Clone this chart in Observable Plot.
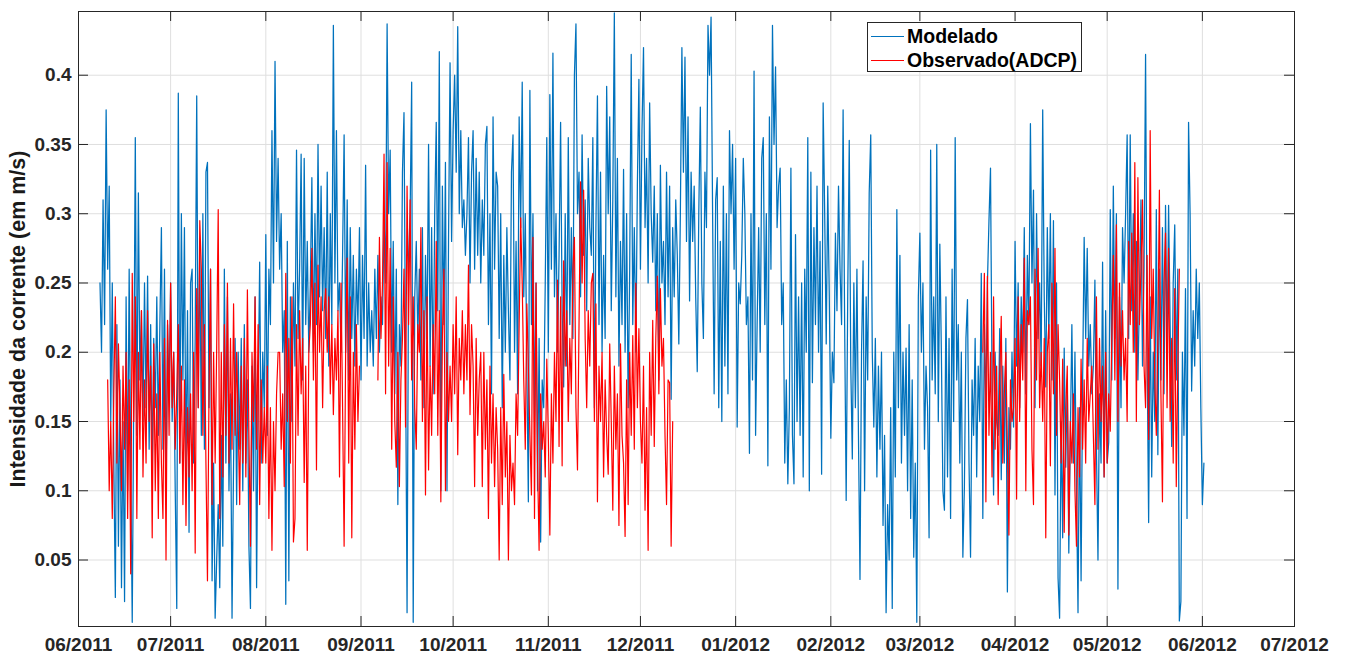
<!DOCTYPE html>
<html>
<head>
<meta charset="utf-8">
<script src="https://cdn.jsdelivr.net/npm/d3@7"></script>
<script src="https://cdn.jsdelivr.net/npm/@observablehq/plot@0.6"></script>
<style>
  body { margin: 0; background: #fff; }
  #grafico { position: relative; width: 1347px; height: 655px; font-family: "Liberation Sans", Arial, Helvetica, sans-serif; }
  .legenda { position: absolute; left: 867px; top: 22px; width: 215px; height: 50px; box-sizing: border-box;
             border: 1px solid #262626; background: #fff; font-weight: bold; font-size: 19.5px; color: #000; }
  .legenda .item { position: absolute; left: 0; height: 24px; display: flex; align-items: center; white-space: nowrap; }
  .legenda .amostra { width: 33px; height: 0; border-top: 1px solid; margin: 0 3px 0 3px; }
</style>
</head>
<body>
<div id="grafico"></div>
<script>
// Intensidade da corrente: série modelada e medições do ADCP, amostradas a cada 12 h.
const passoHoras = 12;

const rotulosX = ["06/2011","07/2011","08/2011","09/2011","10/2011","11/2011","12/2011",
                  "01/2012","02/2012","03/2012","04/2012","05/2012","06/2012","07/2012"];
const ticksY = [0.05, 0.1, 0.15, 0.2, 0.25, 0.3, 0.35, 0.4];
const dominioY = [0.002, 0.446];

const rotuloY = "Intensidade da corrente (em m/s)";
const nomeModelado = "Modelado";
const nomeObservado = "Observado(ADCP)";

// Modelado: início 08/06/2011 00:00 UTC
const inicioModelado = "2011-06-08T00:00:00Z";
const modeladoValores = [
  0.25,0.20,0.31,0.22,0.375,0.26,0.32,0.15,0.25,0.12,
  0.023,0.22,0.06,0.18,0.03,0.15,0.02,0.24,0.10,0.26,
  0.12,0.005,0.17,0.355,0.14,0.315,0.18,0.23,0.15,0.25,
  0.16,0.255,0.13,0.22,0.115,0.21,0.16,0.24,0.14,0.22,
  0.29,0.13,0.26,0.10,0.22,0.17,0.25,0.15,0.20,0.10,
  0.015,0.387,0.12,0.30,0.18,0.29,0.11,0.23,0.07,0.25,
  0.26,0.12,0.21,0.385,0.16,0.28,0.14,0.30,0.13,0.33,
  0.337,0.16,0.26,0.035,0.12,0.008,0.05,
  // julho/agosto 2011
  0.09,0.03,0.14,0.06,0.26,0.12,0.24,0.10,0.17,0.008,
  0.12,0.21,0.09,0.20,0.13,0.21,0.10,0.22,0.12,0.18,
  0.06,0.015,0.19,0.10,0.24,0.03,0.17,0.265,0.12,0.20,
  0.16,0.285,0.14,0.26,0.22,0.36,0.25,0.41,0.28,0.34,
  0.26,0.30,0.20,0.23,0.018,0.28,0.035,0.24,0.15,0.25,
  0.19,0.346,0.21,0.26,0.343,0.18,0.34,0.22,0.28,0.20,
  0.25,0.326,0.20,0.30,0.22,0.35,0.24,0.32,0.23,0.29,
  0.21,0.33,0.19,0.30,0.22,0.436,0.25,0.36,0.23,0.25,0.20,
  // agosto/setembro 2011
  0.27,0.357,0.20,0.31,0.18,0.29,0.21,0.27,0.19,0.26,
  0.22,0.29,0.18,0.27,0.21,0.335,0.19,0.25,0.20,0.23,
  0.19,0.26,0.21,0.27,0.20,0.24,0.22,0.30,0.25,0.437,
  0.30,0.346,0.20,0.28,0.17,0.26,0.09,0.22,0.19,0.33,
  0.373,0.20,0.012,0.27,0.30,0.395,0.005,0.24,0.28,0.21,
  0.26,0.18,0.29,0.16,0.27,0.21,0.35,0.19,0.29,0.17,
  0.30,0.366,0.23,0.417,0.10,0.32,0.22,0.337,0.10,0.28,
  0.409,0.28,0.36,0.40,0.33,0.435,0.30,0.36,0.29,0.31,0.27,
  // outubro/novembro 2011
  0.30,0.355,0.25,0.33,0.36,0.26,0.34,0.27,0.33,0.25,
  0.31,0.27,0.35,0.363,0.22,0.30,0.17,0.37,0.26,0.33,
  0.32,0.21,0.30,0.16,0.27,0.20,0.29,0.23,0.18,0.33,
  0.357,0.20,0.28,0.17,0.37,0.29,0.395,0.24,0.30,0.19,
  0.092,0.389,0.22,0.30,0.15,0.25,0.10,0.21,0.063,0.18,
  0.16,0.25,0.355,0.20,0.386,0.26,0.416,0.24,0.30,0.20,
  0.27,0.366,0.23,0.175,0.30,0.19,0.355,0.22,0.29,0.21,
  0.40,0.437,0.30,0.33,0.24,0.357,0.27,0.31,0.23,0.34,0.29,0.27,
  // novembro/dezembro 2011
  0.355,0.16,0.29,0.385,0.22,0.33,0.20,0.27,0.21,0.392,
  0.30,0.37,0.23,0.31,0.445,0.24,0.34,0.19,0.28,0.22,
  0.332,0.20,0.30,0.16,0.26,0.415,0.22,0.29,0.20,0.32,
  0.397,0.26,0.36,0.42,0.29,0.34,0.25,0.38,0.30,0.265,
  0.32,0.23,0.30,0.18,0.335,0.25,0.28,0.22,0.33,0.24,
  0.32,0.166,0.29,0.24,0.31,0.27,0.206,0.30,0.42,0.33,
  0.413,0.28,0.37,0.237,0.33,0.28,0.32,0.24,0.186,0.30,
  0.377,0.25,0.21,0.33,0.29,0.436,0.40,0.442,0.30,0.17,0.31,
  // dezembro 2011 / janeiro 2012
  0.326,0.16,0.28,0.15,0.32,0.19,0.30,0.17,0.36,0.30,
  0.35,0.26,0.34,0.146,0.25,0.235,0.27,0.34,0.30,0.22,
  0.24,0.127,0.30,0.18,0.403,0.14,0.22,0.29,0.20,0.34,
  0.355,0.22,0.30,0.118,0.37,0.26,0.436,0.35,0.406,0.29,
  0.32,0.333,0.22,0.25,0.12,0.18,0.105,0.16,0.333,0.14,
  0.105,0.285,0.15,0.24,0.14,0.25,0.11,0.26,0.20,0.355,
  0.10,0.33,0.178,0.29,0.22,0.32,0.20,0.28,0.112,0.38,
  0.30,0.206,0.32,0.24,0.138,0.20,0.178,0.286,0.23,0.32,0.26,0.22,
  // fevereiro/março 2012
  0.375,0.22,0.093,0.24,0.353,0.19,0.123,0.25,0.16,0.26,
  0.14,0.036,0.20,0.266,0.10,0.24,0.18,0.315,0.357,0.20,
  0.146,0.21,0.11,0.19,0.13,0.20,0.075,0.14,0.012,0.09,
  0.05,0.16,0.015,0.20,0.11,0.303,0.16,0.27,0.12,0.20,
  0.14,0.203,0.10,0.22,0.08,0.18,0.052,0.12,0.005,0.24,
  0.286,0.20,0.25,0.13,0.19,0.16,0.066,0.346,0.18,0.24,
  0.17,0.35,0.15,0.278,0.20,0.10,0.086,0.24,0.11,0.21,
  0.08,0.26,0.15,0.355,0.18,0.22,0.12,0.20,0.052,0.103,0.21,
  // março/abril 2012
  0.238,0.12,0.052,0.18,0.14,0.21,0.11,0.19,0.15,0.257,
  0.08,0.22,0.16,0.25,0.295,0.333,0.18,0.097,0.20,0.15,
  0.14,0.217,0.108,0.19,0.12,0.21,0.027,0.16,0.13,0.20,
  0.146,0.28,0.19,0.25,0.16,0.24,0.20,0.29,0.17,0.27,
  0.22,0.365,0.25,0.317,0.16,0.30,0.21,0.25,0.19,0.375,
  0.24,0.175,0.29,0.21,0.30,0.18,0.295,0.097,0.25,0.037,
  0.008,0.15,0.066,0.203,0.117,0.18,0.055,0.14,0.22,0.12,
  0.20,0.10,0.012,0.16,0.035,0.18,0.283,0.21,0.275,0.19,0.22,0.17,
  // maio 2012
  0.19,0.252,0.13,0.05,0.17,0.12,0.265,0.11,0.23,0.12,
  0.135,0.303,0.18,0.32,0.21,0.30,0.029,0.24,0.16,0.29,
  0.25,0.30,0.357,0.21,0.357,0.23,0.30,0.20,0.28,0.18,
  0.24,0.31,0.19,0.26,0.415,0.20,0.077,0.24,0.11,0.20,
  0.15,0.303,0.126,0.26,0.18,0.29,0.17,0.306,0.20,0.306,
  0.22,0.132,0.25,0.292,0.18,0.26,0.006,0.02,0.20,0.14,
  0.246,0.08,0.366,0.30,0.172,0.23,0.19,0.26,0.21,0.25,
  0.16,0.09,0.12
];

// Observado (ADCP), primeiro período: início 10/06/2011 12:00 UTC (null = sem medição)
const inicioObservado1 = "2011-06-10T12:00:00Z";
const observado1Valores = [
  0.18,0.10,0.15,0.08,0.17,
  0.24,0.12,0.206,0.16,0.10,0.19,0.13,0.20,0.08,0.18,
  0.04,0.257,0.15,0.24,0.08,0.20,0.13,0.23,0.11,0.18,
  0.12,0.23,0.15,0.19,0.066,0.206,0.10,0.17,0.08,0.20,
  0.12,0.08,0.21,0.05,0.223,0.14,0.25,0.16,0.20,0.13,
  0.17,0.22,0.12,0.19,0.09,0.18,0.075,0.16,0.11,0.17,
  0.10,0.20,0.055,0.246,0.16,0.295,0.26,0.14,0.22,0.12,
  0.035,0.17,0.26,0.09,0.20,0.12,0.203,
  0.303,0.08,0.20,0.11,0.22,0.14,0.25,0.12,0.21,0.13,
  0.235,0.14,0.20,0.15,0.09,0.19,0.12,0.21,0.11,0.245,
  0.14,0.06,0.20,0.15,0.24,0.13,0.22,0.09,0.18,0.12,
  0.16,0.12,0.19,0.08,0.16,0.057,0.15,0.10,0.17,0.20,
  0.20,0.13,0.17,0.103,0.257,0.15,0.21,0.12,0.24,0.063,
  0.08,0.22,0.14,0.23,0.17,0.21,0.106,0.19,0.057,0.20,
  0.22,0.275,0.18,0.25,0.115,0.263,0.20,0.24,0.16,0.23,
  0.246,0.20,0.24,0.17,0.22,0.155,0.21,0.18,0.23,0.11,0.25,
  0.16,0.06,0.20,0.268,0.12,0.24,0.066,0.20,0.13,0.22,
  0.15,0.19,null,null,null,null,null,null,null,null,
  null,null,null,0.18,0.283,0.21,0.25,0.343,0.17,0.337,
  0.19,0.275,0.13,0.24,0.15,0.117,0.20,0.103,0.18,0.21,
  0.26,0.146,0.32,0.22,0.31,0.18,0.24,0.16,0.13,0.22,
  0.20,0.29,0.15,0.23,0.097,0.24,0.115,0.19,0.14,0.22,
  0.17,0.28,0.14,0.23,0.092,0.21,0.26,0.10,0.20,0.15,
  0.19,0.15,0.22,0.17,0.24,0.126,0.21,0.18,0.23,0.17,0.22,
  0.18,0.263,0.155,0.22,0.19,0.103,0.21,0.14,0.18,0.20,
  0.103,0.20,0.13,0.18,0.08,0.19,0.12,0.17,0.103,0.16,
  0.13,0.05,0.16,0.09,0.184,0.11,0.15,0.05,0.14,0.10,
  0.12,0.09,0.17,0.14,0.22,0.297,0.25,0.18,0.13,0.235,
  0.19,0.14,0.097,0.283,0.08,0.25,0.12,0.057,0.17,0.13,
  0.15,0.11,0.195,0.14,0.068,0.17,0.12,0.20,0.15,0.252,
  0.132,0.24,0.118,0.266,0.19,0.23,0.15,0.21,0.17,0.26,
  0.283,0.16,0.115,0.22,0.323,0.25,0.317,0.21,0.16,0.23,0.19,0.25,
  0.257,0.15,0.235,0.092,0.19,0.15,0.20,0.11,0.18,0.14,
  0.112,0.206,0.15,0.086,0.19,0.13,0.17,0.075,0.206,0.14,
  0.12,0.067,0.18,0.09,0.20,0.14,0.212,0.13,0.25,0.16,
  0.217,0.15,0.12,0.19,0.086,0.16,0.057,0.20,0.14,0.223,
  0.132,0.21,0.255,0.17,0.246,0.19,0.21,0.14,0.09,0.18,
  0.178,0.06,0.15
];

// Observado (ADCP), segundo período: início 21/03/2012 12:00 UTC
const inicioObservado2 = "2012-03-21T12:00:00Z";
const observado2Valores = [
  0.20,0.257,0.092,0.255,0.14,0.20,0.11,0.24,0.13,0.19,
  0.09,0.18,0.226,0.12,0.17,0.20,0.13,0.068,0.18,0.15,
  0.16,0.21,0.094,0.24,0.15,0.22,0.18,0.268,0.10,0.23,
  0.22,0.24,0.13,0.09,0.26,0.18,0.275,0.16,0.20,0.15,
  0.21,0.066,0.20,0.22,0.118,0.25,0.17,0.275,0.14,0.22,
  0.18,0.12,0.195,0.07,0.16,0.19,0.068,0.15,0.12,0.17,
  0.10,0.06,0.16,0.11,0.195,0.13,0.18,0.12,0.21,0.15,0.17,0.19,0.14,
  0.09,0.24,0.13,0.21,0.15,0.19,0.11,0.20,0.12,0.17,
  0.143,0.21,0.27,0.18,0.292,0.15,0.25,0.19,0.23,0.18,
  0.21,0.15,0.28,0.22,0.286,0.20,0.337,0.15,0.326,0.22,
  0.26,0.31,0.19,0.16,0.27,0.137,0.36,0.21,0.26,0.18,
  0.14,0.21,0.317,0.17,0.092,0.25,0.286,0.16,0.275,0.15,
  0.21,0.12,0.246,0.103,0.19,0.26
];

// ---------------------------------------------------------------
function serie(valores, inicio, trecho) {
  const t0 = Date.parse(inicio);
  return valores.map((v, i) => ({ data: new Date(t0 + i * passoHoras * 36e5), v, trecho }));
}
const modelado = serie(modeladoValores, inicioModelado, 0);
const observado = serie(observado1Valores, inicioObservado1, 1)
  .concat(serie(observado2Valores, inicioObservado2, 2));

const meses = rotulosX.map(s => {
  const [m, a] = s.split("/");
  return new Date(Date.UTC(+a, +m - 1, 1));
});

const largura = 1347, altura = 655;
const margem = { top: 11, right: 53, bottom: 29, left: 78 };
const alturaInterna = altura - margem.top - margem.bottom;
const larguraInterna = largura - margem.left - margem.right;
const tamTick = 10;
const corEixo = "#262626", corGrade = "#dfdfdf";

const grafico = Plot.plot({
  width: largura,
  height: altura,
  marginTop: margem.top,
  marginRight: margem.right,
  marginBottom: margem.bottom,
  marginLeft: margem.left,
  style: { fontFamily: "'Liberation Sans', Arial, Helvetica, sans-serif", fontSize: "19px",
           fontWeight: "bold", color: corEixo, background: "#fff" },
  x: { type: "utc", domain: [meses[0], meses[meses.length - 1]] },
  y: { domain: dominioY },
  marks: [
    Plot.ruleX(meses, { stroke: corGrade, strokeWidth: 1 }),
    Plot.ruleY(ticksY, { stroke: corGrade, strokeWidth: 1 }),
    Plot.line(modelado, { x: "data", y: "v", stroke: "#0072BD", strokeWidth: 1.25 }),
    Plot.line(observado, { x: "data", y: "v", z: "trecho", stroke: "#FF0000", strokeWidth: 1.2 }),
    // marcas de escala voltadas para dentro, nos quatro lados
    Plot.ruleX(meses, { insetTop: alturaInterna - tamTick, stroke: corEixo }),
    Plot.ruleX(meses, { insetBottom: alturaInterna - tamTick, stroke: corEixo }),
    Plot.ruleY(ticksY, { insetRight: larguraInterna - tamTick, stroke: corEixo }),
    Plot.ruleY(ticksY, { insetLeft: larguraInterna - tamTick, stroke: corEixo }),
    Plot.frame({ stroke: corEixo, strokeWidth: 1 }),
    Plot.axisX({ ticks: meses, tickFormat: d3.utcFormat("%m/%Y"), tickSize: 0, tickPadding: 11,
                 label: null, fill: corEixo }),
    Plot.axisY({ ticks: ticksY, tickFormat: d => String(+d.toFixed(2)), tickSize: 0, tickPadding: 7,
                 label: null, fill: corEixo }),
    Plot.text([rotuloY], { text: d => d, frameAnchor: "left", textAnchor: "middle", lineAnchor: "middle",
                           rotate: -90, dx: -60, fontSize: 21.5, fontWeight: "bold", fill: "#1a1a1a" })
  ]
});

const alvo = document.getElementById("grafico");
alvo.appendChild(grafico);

// legenda no canto superior direito da área do gráfico
const legenda = document.createElement("div");
legenda.className = "legenda";
[[nomeModelado, "#0072BD", 1], [nomeObservado, "#FF0000", 25]].forEach(([nome, cor, topo]) => {
  const item = document.createElement("div");
  item.className = "item";
  item.style.top = topo + "px";
  const amostra = document.createElement("span");
  amostra.className = "amostra";
  amostra.style.borderTopColor = cor;
  const texto = document.createElement("span");
  texto.textContent = nome;
  item.appendChild(amostra);
  item.appendChild(texto);
  legenda.appendChild(item);
});
alvo.appendChild(legenda);
</script>
</body>
</html>
